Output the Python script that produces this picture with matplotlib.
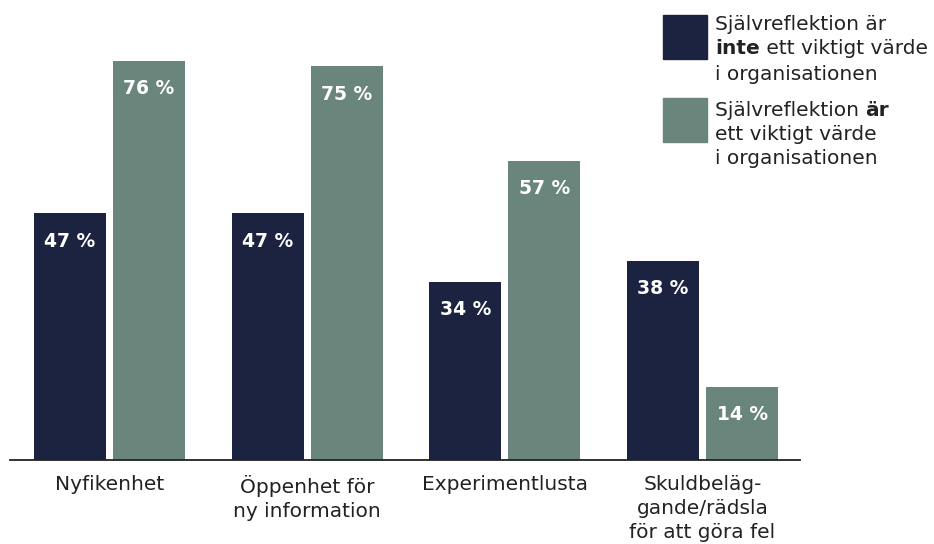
import matplotlib
matplotlib.use("Agg")
import matplotlib.pyplot as plt
from matplotlib.patches import Rectangle
import numpy as np

categories = ["Nyfikenhet", "Öppenhet för\nny information", "Experimentlusta",
              "Skuldbeläg-\ngande/rädsla\nför att göra fel"]
inte_values = [47, 47, 34, 38]
ar_values = [76, 75, 57, 14]

DARK = "#1c2341"
GREEN = "#6a857c"
FONT = "DejaVu Sans"
FS = 14.5
FSV = 13.5

plt.rcParams['font.family'] = [FONT]

W, H = 934, 544
fig = plt.figure(figsize=(W / 100, H / 100), dpi=100)
ax = fig.add_axes([10 / W, (H - 460) / H, 790 / W, 420 / H])

x = np.arange(len(categories))
bw = 0.364
off = 0.2
b1 = ax.bar(x - off, inte_values, bw, color=DARK)
b2 = ax.bar(x + off, ar_values, bw, color=GREEN)

for bars, vals in ((b1, inte_values), (b2, ar_values)):
    for rect, v in zip(bars, vals):
        ax.annotate(f"{v} %", (rect.get_x() + rect.get_width() / 2, v),
                    xytext=(0, -20), textcoords="offset points",
                    ha="center", va="center", color="white",
                    fontsize=FSV, fontweight="bold")

ax.set_xlim(-0.503, 3.493)
ax.set_ylim(0, 80)
for s in ("top", "right", "left"):
    ax.spines[s].set_visible(False)
ax.spines["bottom"].set_color("#222222")
ax.spines["bottom"].set_linewidth(1.3)
ax.set_yticks([])
ax.set_xticks(x)
ax.set_xticklabels(categories, fontsize=FS, color="#222222", linespacing=1.36, va="top")
ax.tick_params(axis="x", length=0, pad=10.5)

# Legend
fig.patches.append(Rectangle((663 / W, 1 - 59 / H), 44 / W, 44 / H,
                             transform=fig.transFigure, color=DARK, figure=fig))
fig.patches.append(Rectangle((663 / W, 1 - 142 / H), 44 / W, 44 / H,
                             transform=fig.transFigure, color=GREEN, figure=fig))

renderer = fig.canvas.get_renderer()

def line(parts, ypix, xpix=715):
    xcur = xpix
    for txt, bold in parts:
        t = fig.text(xcur / W, 1 - ypix / H, txt, fontsize=FS, color="#222222",
                     fontweight="bold" if bold else "normal", va="center", ha="left")
        bb = t.get_window_extent(renderer=renderer)
        xcur = bb.x1

line([("Självreflektion är", False)], 25)
line([("inte", True), (" ett viktigt värde", False)], 49)
line([("i organisationen", False)], 74)
line([("Självreflektion ", False), ("är", True)], 110)
line([("ett viktigt värde", False)], 134)
line([("i organisationen", False)], 159)

fig.savefig("out.png", dpi=100)
